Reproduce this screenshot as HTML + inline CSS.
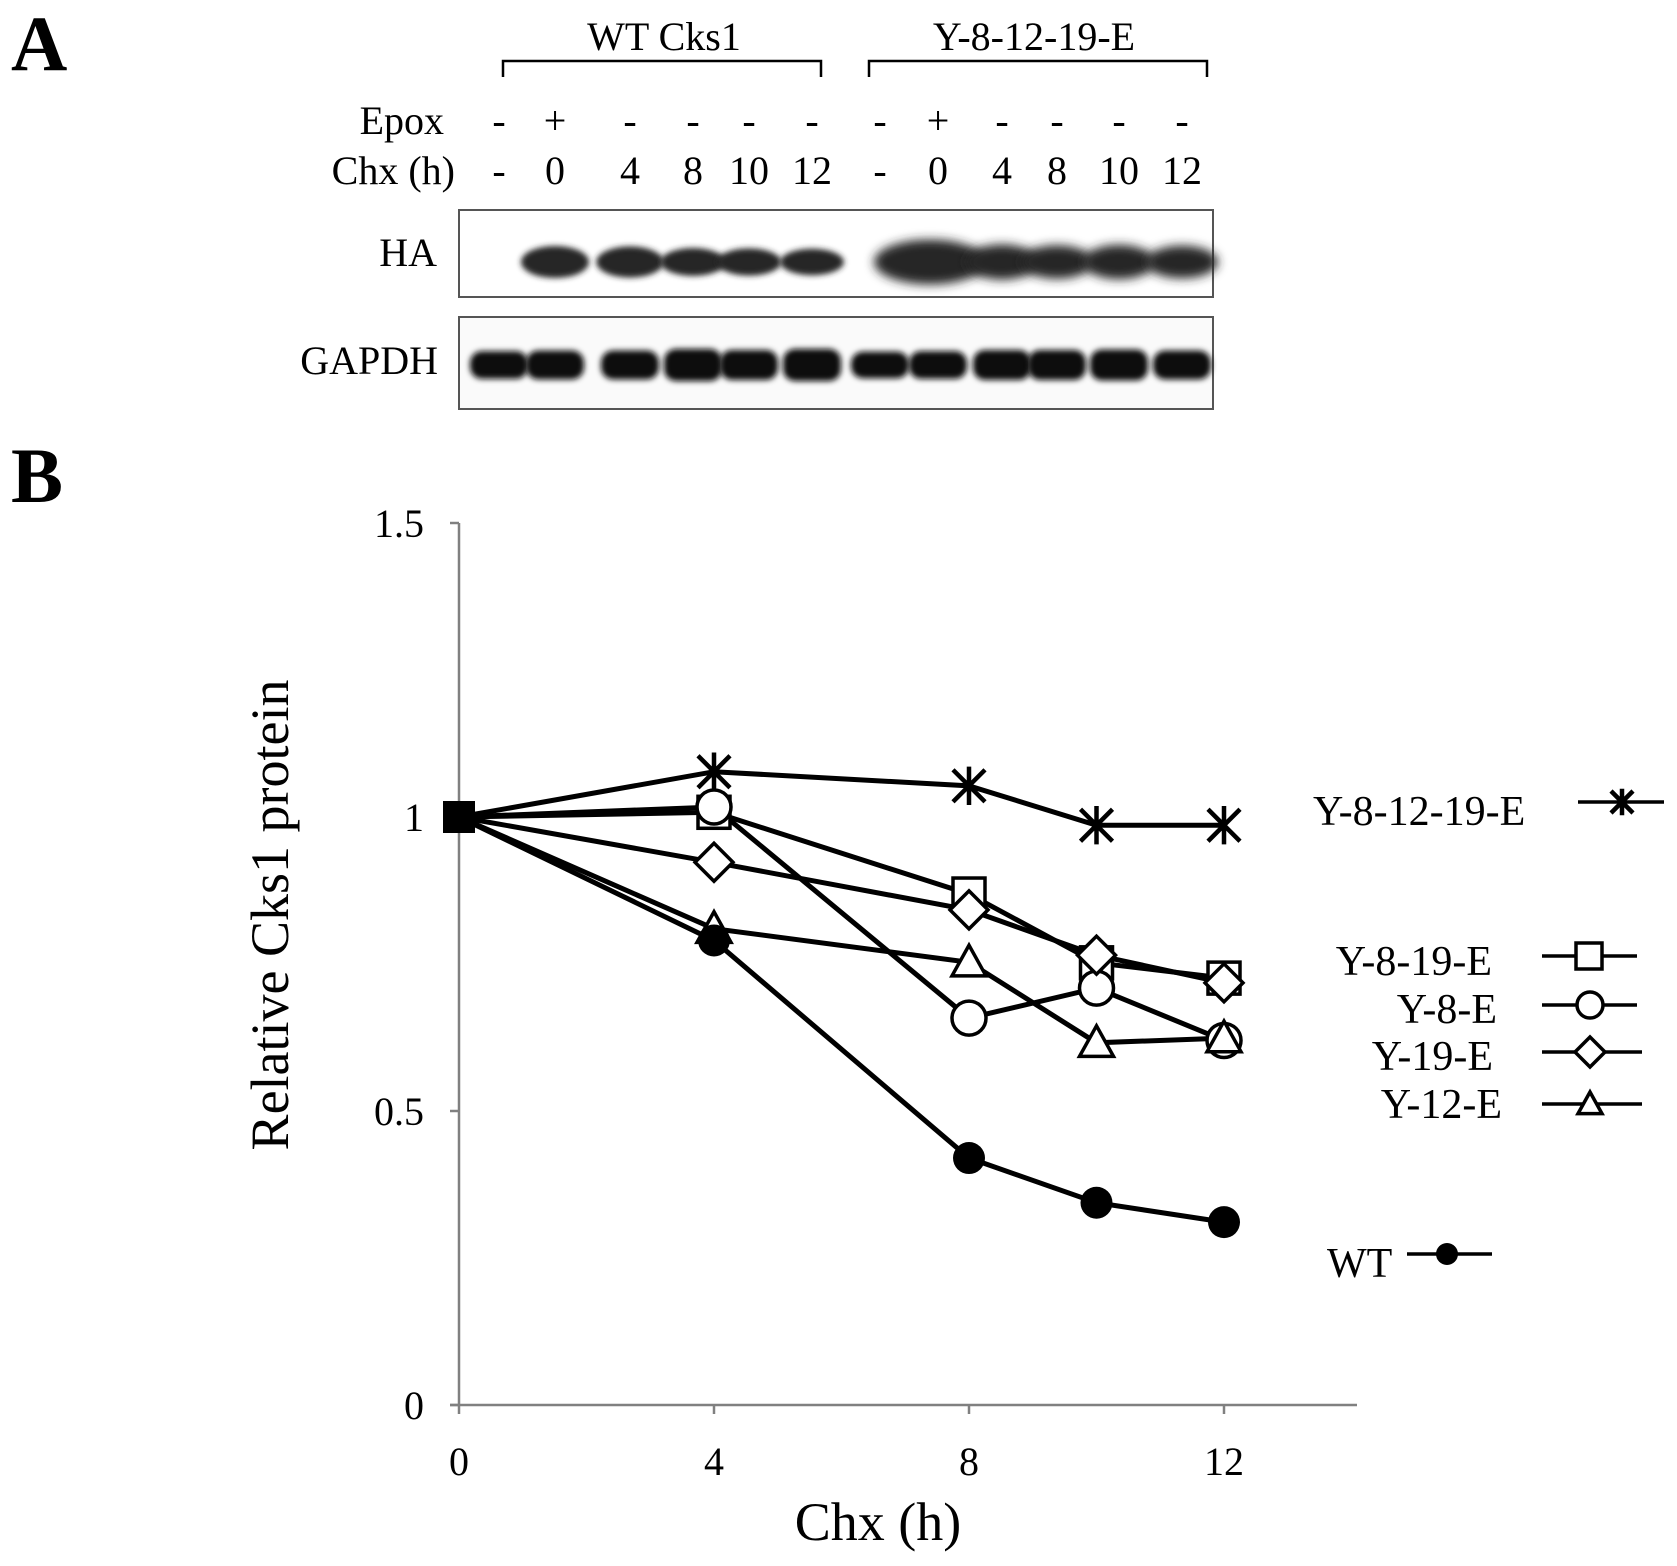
<!DOCTYPE html>
<html><head><meta charset="utf-8">
<style>
html,body{margin:0;padding:0;background:#fff;}
svg{display:block;font-family:"Liberation Serif",serif;}
</style></head>
<body>
<svg id="fig" width="1677" height="1566" viewBox="0 0 1677 1566" xmlns="http://www.w3.org/2000/svg">
<defs>
<filter id="blur" x="-20%" y="-50%" width="140%" height="200%"><feGaussianBlur stdDeviation="3"/></filter>
<filter id="blur2" x="-20%" y="-50%" width="140%" height="200%"><feGaussianBlur stdDeviation="5"/></filter>
</defs>
<text x="11" y="70" font-size="78" font-weight="bold">A</text>
<text x="11" y="502" font-size="78" font-weight="bold">B</text>

<g>
<text x="664" y="50" font-size="40" text-anchor="middle">WT Cks1</text>
<path d="M503 77 V61 H821 V77" fill="none" stroke="#000" stroke-width="2.5"/>
</g>
<g>
<text x="1034" y="50" font-size="40" text-anchor="middle">Y-8-12-19-E</text>
<path d="M869 77 V61 H1207 V77" fill="none" stroke="#000" stroke-width="2.5"/>
</g>
<text x="444" y="134" font-size="40" text-anchor="end">Epox</text>
<text x="455" y="184" font-size="40" text-anchor="end">Chx (h)</text>
<g id="lanes"></g>

<rect x="459" y="210" width="754" height="87" fill="#fff" stroke="#555" stroke-width="2"/>
<text x="437" y="266" font-size="40" text-anchor="end">HA</text>
<g id="haBands"></g>
<rect x="459" y="317" width="754" height="92" fill="#fafafa" stroke="#555" stroke-width="2"/>
<text x="438" y="374" font-size="40" text-anchor="end">GAPDH</text>
<g id="gBands"></g>

<g id="axes"></g>
<g id="series"></g>
<text x="878" y="1540" font-size="54" text-anchor="middle">Chx (h)</text>
<text transform="translate(288,915) rotate(-90)" font-size="54" text-anchor="middle">Relative Cks1 protein</text>
<g id="legend"></g>
</svg>
<script>
const NS="http://www.w3.org/2000/svg";
const laneX=[499,555,630,693,749,812,880,938,1002,1057,1119,1182];
const epox=["-","+","-","-","-","-","-","+","-","-","-","-"];
const chx=["-","0","4","8","10","12","-","0","4","8","10","12"];
const haIntensity=[0,1.0,0.95,0.75,0.7,0.65,0,1.8,1.2,1.1,1.15,1.05];
const gapdhIntensity=[0.9,0.95,0.95,1.1,1.0,1.1,0.85,0.9,1.0,1.0,1.05,0.95];

const times=[0,4,8,10,12];
const yWT=[1,0.79,0.42,0.344,0.311];
const yY8E=[1,1.017,0.658,0.709,0.62];
const yY19E=[1,0.923,0.842,0.765,0.718];
const yY12E=[1,0.81,0.753,0.616,0.624];
const yY819E=[1,1.008,0.869,0.752,0.726];
const yY81219E=[1,1.077,1.053,0.986,0.986];
const xTicks=[0,4,8,12];
const yTicks=[0,0.5,1,1.5];
const yTickLabels=["0","0.5","1","1.5"];

function el(tag,attrs,parent){const e=document.createElementNS(NS,tag);for(const k in attrs)e.setAttribute(k,attrs[k]);parent.appendChild(e);return e;}
const X=v=>459+v*63.75;
const Y=v=>1405-v*588;

const lanes=document.getElementById('lanes');
laneX.forEach((x,i)=>{
  const t1=el('text',{x:x,y:134,'font-size':40,'text-anchor':'middle'},lanes);t1.textContent=epox[i];
  
  
  const t2=el('text',{x:x,y:184,'font-size':40,'text-anchor':'middle'},lanes);t2.textContent=chx[i];
  
  
});
const ha=document.getElementById('haBands');
laneX.forEach((x,i)=>{
  const v=haIntensity[i];if(!v)return;
  const h=16+16*v, w=i>=7?72:56+12*v;
  const b=el('ellipse',{cx:x+(i==7?-8:0),cy:262,rx:w/2+(i==7?20:0),ry:h/2,fill:'#262626',filter:i>=7?'url(#blur2)':'url(#blur)'},ha);
  
  
});
const gb=document.getElementById('gBands');
laneX.forEach((x,i)=>{
  const v=gapdhIntensity[i];
  const b=el('rect',{x:x-29,y:365-11*v-4,width:58,height:22*v+8,rx:12,fill:'#111',filter:'url(#blur)'},gb);
  
  
});

const ax=document.getElementById('axes');
el('line',{x1:459,y1:Y(1.5),x2:459,y2:1405,stroke:'#808080','stroke-width':2.5},ax);
el('line',{x1:450,y1:1405,x2:1357,y2:1405,stroke:'#808080','stroke-width':2.5},ax);
yTicks.forEach((v,i)=>{
  el('line',{x1:450,y1:Y(v),x2:459,y2:Y(v),stroke:'#808080','stroke-width':2.5},ax);
  const t=el('text',{x:424,y:Y(v)+14,'font-size':40,'text-anchor':'end'},ax);t.textContent=yTickLabels[i];
  
  
});
xTicks.forEach(v=>{
  el('line',{x1:X(v),y1:1405,x2:X(v),y2:1414,stroke:'#808080','stroke-width':2.5},ax);
  const t=el('text',{x:X(v),y:1475,'font-size':40,'text-anchor':'middle'},ax);t.textContent=v;
  
  
});

function marker(type,cx,cy,s,g){
  const st={stroke:'#000','stroke-width':3.5,fill:'#fff'};
  if(type=='square')return el('rect',Object.assign({x:cx-s,y:cy-s,width:2*s,height:2*s},st),g);
  if(type=='circle')return el('circle',Object.assign({cx:cx,cy:cy,r:s},st),g);
  if(type=='diamond')return el('polygon',Object.assign({points:`${cx},${cy-s} ${cx+s},${cy} ${cx},${cy+s} ${cx-s},${cy}`},st),g);
  if(type=='triangle')return el('polygon',Object.assign({points:`${cx},${cy-s} ${cx+s},${cy+s*0.8} ${cx-s},${cy+s*0.8}`},st),g);
  if(type=='dot')return el('circle',{cx:cx,cy:cy,r:s,fill:'#000'},g);
  if(type=='star'){const p=el('path',{d:`M${cx-s} ${cy-s}L${cx+s} ${cy+s}M${cx-s} ${cy+s}L${cx+s} ${cy-s}M${cx} ${cy-s*1.2}V${cy+s*1.2}`,stroke:'#000','stroke-width':4.5,fill:'none'},g);return p;}
}
const seriesDefs=[
 {name:'Y-8-12-19-E',vals:yY81219E,m:'star',s:16},
 {name:'Y-8-19-E',vals:yY819E,m:'square',s:16},
 {name:'Y-8-E',vals:yY8E,m:'circle',s:17},
 {name:'Y-19-E',vals:yY19E,m:'diamond',s:19},
 {name:'Y-12-E',vals:yY12E,m:'triangle',s:17},
 {name:'WT',vals:yWT,m:'dot',s:16}
];
const sg=document.getElementById('series');
seriesDefs.forEach(d=>{
  const g=el('g',{},sg);
  
  
  const pts=times.map((t,i)=>X(t)+','+Y(d.vals[i])).join(' ');
  el('polyline',{points:pts,fill:'none',stroke:'#000','stroke-width':5},g);
});
seriesDefs.forEach(d=>{
  const g=el('g',{},sg);
  
  
  times.forEach((t,i)=>{if(i>0){const m=marker(d.m,X(t),Y(d.vals[i]),d.s,g);
    
    }});
});
const z=el('rect',{x:X(0)-16,y:Y(1)-16,width:32,height:32,fill:'#000'},sg);



const lg=document.getElementById('legend');
const legItems=[
 {name:'Y-8-12-19-E',m:'star',s:11,tx:1313,anchor:'start',ty:825,lx1:1578,lx2:1664,ly:802,mx:1622},
 {name:'Y-8-19-E',m:'square',s:13,tx:1492,anchor:'end',ty:975,lx1:1542,lx2:1637,ly:956,mx:1589},
 {name:'Y-8-E',m:'circle',s:13,tx:1497,anchor:'end',ty:1023,lx1:1542,lx2:1637,ly:1005,mx:1590},
 {name:'Y-19-E',m:'diamond',s:15,tx:1493,anchor:'end',ty:1070,lx1:1542,lx2:1642,ly:1052,mx:1590},
 {name:'Y-12-E',m:'triangle',s:12,tx:1502,anchor:'end',ty:1118,lx1:1542,lx2:1642,ly:1104,mx:1590},
 {name:'WT',m:'dot',s:11,tx:1327,anchor:'start',ty:1277,lx1:1407,lx2:1492,ly:1254,mx:1447}
];
legItems.forEach(d=>{
  const g=el('g',{},lg);
  
  
  const t=el('text',{x:d.tx,y:d.ty,'font-size':42,'text-anchor':d.anchor},g);t.textContent=d.name;
  el('line',{x1:d.lx1,y1:d.ly,x2:d.lx2,y2:d.ly,stroke:'#000','stroke-width':3.5},g);
  marker(d.m,d.mx,d.ly,d.s,g);
});
</script>
</body></html>
